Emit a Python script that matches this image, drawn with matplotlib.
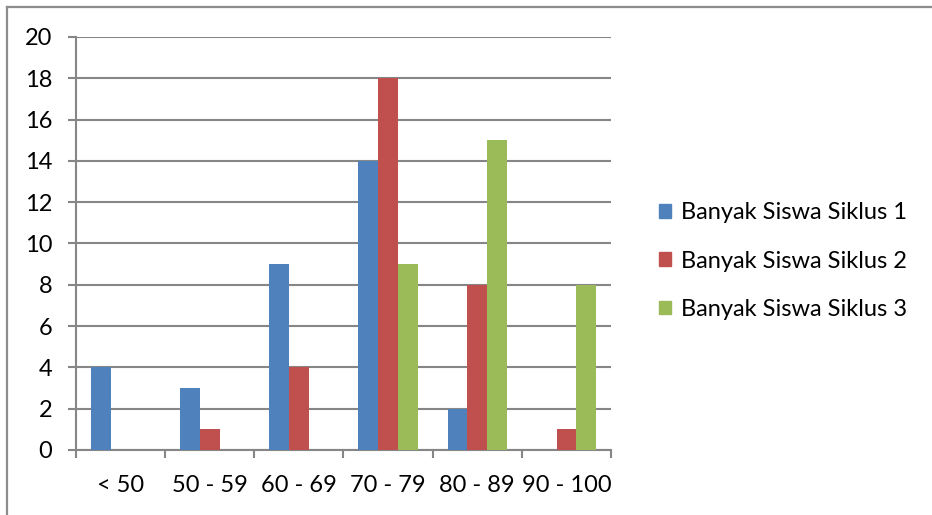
import matplotlib
matplotlib.use("Agg")
import matplotlib.pyplot as plt
import numpy as np
from matplotlib.lines import Line2D

categories = ["< 50", "50 - 59", "60 - 69", "70 - 79", "80 - 89", "90 - 100"]
siklus1 = [4, 3, 9, 14, 2, 0]
siklus2 = [0, 1, 4, 18, 8, 1]
siklus3 = [0, 0, 0, 9, 15, 8]
series_names = ["Banyak Siswa Siklus 1", "Banyak Siswa Siklus 2", "Banyak Siswa Siklus 3"]
colors = ["#4F81BD", "#C0504D", "#9BBB59"]
y_ticks = list(range(0, 21, 2))

plt.rcParams["font.family"] = ["Lato", "DejaVu Sans"]
W, H = 932, 515
fig = plt.figure(figsize=(W / 100, H / 100), dpi=100)
fig.patch.set_facecolor("white")

grid_c = "#868686"
fs = 17

# plot area in pixel coordinates
left, right, top, bottom = 76, 611, 37, 450
ax = fig.add_axes([left / W, (H - bottom) / H, (right - left) / W, (bottom - top) / H])

x = np.arange(len(categories))
w = 1 / 4.5
for i, (vals, name, c) in enumerate(zip([siklus1, siklus2, siklus3], series_names, colors)):
    ax.bar(x + (i - 1) * w, vals, width=w, color=c, label=name, zorder=3)

ax.set_xlim(-0.5, len(categories) - 0.5)
ax.set_ylim(0, 20)
ax.set_yticks(y_ticks)
ax.yaxis.grid(True, color=grid_c, linewidth=1.5, zorder=0)
ax.set_axisbelow(True)

for s in ["top", "right"]:
    ax.spines[s].set_visible(False)
for s in ["left", "bottom"]:
    ax.spines[s].set_color(grid_c)
    ax.spines[s].set_linewidth(1.5)

ax.tick_params(axis="y", length=6, width=1.5, color=grid_c, pad=11, labelsize=fs, labelcolor="black")
# category boundary ticks without labels, labels at centers
ax.set_xticks(np.arange(-0.5, len(categories), 1.0))
ax.set_xticklabels([])
ax.set_xticks(x, minor=True)
ax.set_xticklabels(categories, minor=True)
ax.tick_params(axis="x", which="major", length=6, width=1.5, color=grid_c)
ax.tick_params(axis="x", which="minor", length=0, pad=18, labelsize=fs, labelcolor="black")

handles = [plt.Rectangle((0, 0), 1, 1, color=c) for c in colors]
fig.legend(handles, series_names, loc="center left",
           bbox_to_anchor=(647 / W, (H - 261) / H), frameon=False,
           fontsize=fs, handlelength=0.5, handleheight=0.5, handletextpad=0.45,
           labelspacing=1.15, borderpad=0)

# outer chart border (top and left edges)
fig.add_artist(Line2D([7 / W, 1.0], [(H - 7) / H, (H - 7) / H], transform=fig.transFigure,
                      color="#8C8C8C", linewidth=1.6))
fig.add_artist(Line2D([7 / W, 7 / W], [0, (H - 7) / H], transform=fig.transFigure,
                      color="#8C8C8C", linewidth=1.6))

fig.savefig("out.png", dpi=100)
